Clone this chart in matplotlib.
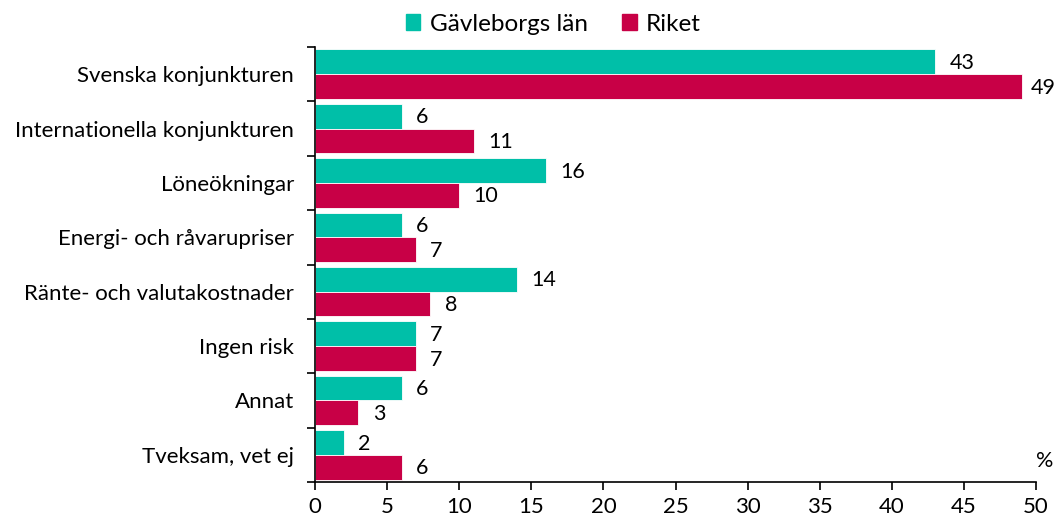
import numpy as np
import matplotlib.pyplot as plt
from matplotlib.patches import Patch

categories = ['Svenska konjunkturen', 'Internationella konjunkturen', 'Löneökningar',
              'Energi- och råvarupriser', 'Ränte- och valutakostnader', 'Ingen risk',
              'Annat', 'Tveksam, vet ej']
gavleborg = [43, 6, 16, 6, 14, 7, 6, 2]
riket = [49, 11, 10, 7, 8, 7, 3, 6]
series_names = ['Gävleborgs län', 'Riket']

teal = '#00BFA8'
crimson = '#C80046'

plt.rcParams['font.family'] = ['Lato', 'DejaVu Sans']
fs = 16

fig = plt.figure(figsize=(10.56, 5.22), dpi=100)
ax = fig.add_axes([0.2983, 0.0766, 0.6828, 0.8333])

y = np.arange(len(categories))
h = 0.455
b1 = ax.barh(y - h / 2, gavleborg, height=h, color=teal, edgecolor='white', linewidth=0.6)
b2 = ax.barh(y + h / 2, riket, height=h, color=crimson, edgecolor='white', linewidth=0.6)

# value labels next to the bars, kept inside the figure near the right edge
for bars, vals in [(b1, gavleborg), (b2, riket)]:
    for bar, v in zip(bars, vals):
        ax.text(min(v + 1.0, 49.6), bar.get_y() + bar.get_height() / 2 + 0.02, str(v),
                va='center', ha='left', fontsize=15.5)

ax.set_xlim(0, 50)
ax.set_ylim(len(categories) - 0.5, -0.5)
ax.set_xticks(np.arange(0, 51, 5))
ax.set_yticks(y)
ax.set_yticklabels(categories)
ax.set_yticks(np.arange(-0.5, len(categories), 1), minor=True)
ax.tick_params(axis='y', which='major', length=0, pad=15, labelsize=fs)
ax.tick_params(axis='y', which='minor', length=6, width=1.2, direction='out')
ax.tick_params(axis='x', length=6, width=1.2, direction='out', labelsize=fs, pad=5)

for s in ['top', 'right']:
    ax.spines[s].set_visible(False)
for s in ['left', 'bottom']:
    ax.spines[s].set_linewidth(1.2)

ax.text(1.0, 0.025, '%', transform=ax.transAxes, ha='left', va='bottom', fontsize=15.5)

handles = [Patch(color=teal), Patch(color=crimson)]
fig.legend(handles, series_names, loc='center', bbox_to_anchor=(0.524, 0.954), ncol=2,
           frameon=False, fontsize=17.5, handlelength=0.6, handleheight=0.6,
           handletextpad=0.4, columnspacing=1.4)

fig.savefig('out.png', dpi=100)
